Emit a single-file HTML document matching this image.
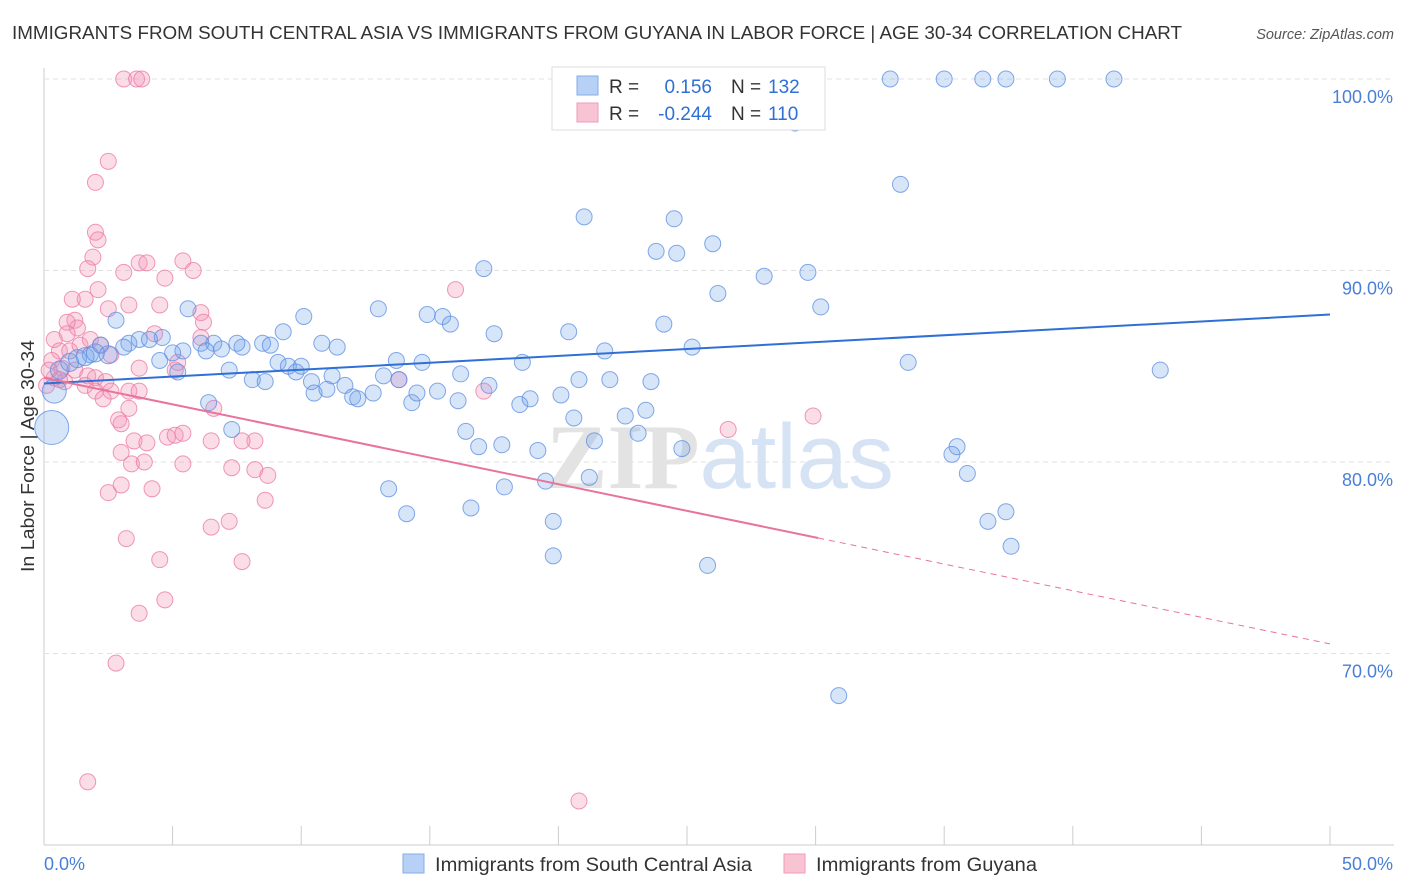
<!DOCTYPE html>
<html><head><meta charset="utf-8"><style>
body{margin:0;background:#fff;width:1406px;height:892px;overflow:hidden;font-family:"Liberation Sans",sans-serif}
svg{position:absolute;left:0;top:0}
</style></head><body>
<svg id="chart" width="1406" height="892">
<text x="12" y="39" font-size="18" fill="#333" textLength="1170" lengthAdjust="spacingAndGlyphs">IMMIGRANTS FROM SOUTH CENTRAL ASIA VS IMMIGRANTS FROM GUYANA IN LABOR FORCE | AGE 30-34 CORRELATION CHART</text>
<text x="1394" y="39" font-size="14.5" fill="#555" font-style="italic" text-anchor="end">Source: ZipAtlas.com</text>
<text x="720" y="488" font-size="92" fill="#e3e3e3" text-anchor="middle" font-family="Liberation Serif" font-weight="bold">ZIP<tspan fill="#d6e3f5" font-family="Liberation Sans" font-weight="normal">atlas</tspan></text>
<text transform="translate(34,456) rotate(-90)" font-size="18" fill="#333" text-anchor="middle" textLength="232" lengthAdjust="spacingAndGlyphs">In Labor Force | Age 30-34</text>
<g id="grid"></g><g id="pts"></g><g id="lines"></g>
<g>
<rect x="552" y="67" width="273" height="63" fill="#fff" stroke="#ddd"/>
<rect x="577" y="76" width="21" height="19" fill="#b7d0f5" stroke="#86aee8"/>
<rect x="577" y="103" width="21" height="19" fill="#f8c4d4" stroke="#ee9bb8"/>
<text x="609" y="93" font-size="19" fill="#333">R = </text><text x="712" y="93" font-size="19" fill="#2f6fd6" text-anchor="end">0.156</text>
<text x="731" y="93" font-size="19" fill="#333">N = </text><text x="768" y="93" font-size="19" fill="#2f6fd6">132</text>
<text x="609" y="120" font-size="19" fill="#333">R = </text><text x="712" y="120" font-size="19" fill="#2f6fd6" text-anchor="end">-0.244</text>
<text x="731" y="120" font-size="19" fill="#333">N = </text><text x="768" y="120" font-size="19" fill="#2f6fd6">110</text>
</g>
<g>
<rect x="403" y="854" width="21" height="19" fill="#b7d0f5" stroke="#86aee8"/>
<text x="435" y="871" font-size="19" fill="#333" textLength="317" lengthAdjust="spacingAndGlyphs">Immigrants from South Central Asia</text>
<rect x="784" y="854" width="21" height="19" fill="#f8c4d4" stroke="#ee9bb8"/>
<text x="816" y="871" font-size="19" fill="#333" textLength="221" lengthAdjust="spacingAndGlyphs">Immigrants from Guyana</text>
</g>
</svg>
<script>
const xTicks=[0,5,10,15,20,25,30,35,40,45,50];
const yTicks=[70,80,90,100];
const yTickLabels=["70.0%","80.0%","90.0%","100.0%"];
const blueX=[32.9,35.0,36.5,37.4,39.4,41.6,29.2,33.3,21.0,24.5,26.0,23.8,24.6,28.0,29.7,17.1,26.2,30.2,5.6,13.0,10.1,14.9,15.5,15.8,24.1,2.8,20.4,17.5,9.3,25.2,21.8,33.6,43.4,3.3,3.7,4.6,4.1,3.1,2.2,1.8,4.5,5.4,5.0,6.1,6.6,6.9,6.3,7.7,7.5,8.5,8.8,9.1,9.5,10.0,9.8,10.8,11.4,13.7,14.7,18.6,7.2,8.1,8.6,10.4,11.2,10.5,11.0,11.7,12.0,12.2,12.8,13.2,13.8,14.3,14.5,15.3,16.1,16.2,17.3,18.5,18.9,20.1,20.8,22.0,23.6,20.6,22.6,23.4,23.1,21.4,16.4,16.9,17.8,19.2,7.3,6.4,19.5,17.9,13.4,14.1,16.6,19.8,19.8,21.2,24.8,25.8,30.9,35.5,35.3,35.9,36.7,37.4,37.6,0.4,0.3,0.6,1.0,1.3,1.6,2.0,2.5,5.2];
const blueY=[100,100,100,100,100,100,97.7,94.5,92.8,92.7,91.4,91.0,90.9,89.7,89.9,90.1,88.8,88.1,88.0,88.0,87.6,87.7,87.6,87.2,87.2,87.4,86.8,86.7,86.8,86.0,85.8,85.2,84.8,86.2,86.4,86.5,86.4,86.0,86.1,85.6,85.3,85.8,85.7,86.2,86.2,85.9,85.8,86.0,86.2,86.2,86.1,85.2,85.0,85.0,84.7,86.2,86.0,85.3,85.2,85.2,84.8,84.3,84.2,84.2,84.5,83.6,83.8,84.0,83.4,83.3,83.6,84.5,84.3,83.1,83.6,83.7,83.2,84.6,84.0,83.0,83.3,83.5,84.3,84.3,84.2,82.3,82.4,82.7,81.5,81.1,81.6,80.8,80.9,80.6,81.7,83.1,79.0,78.7,78.6,77.3,77.6,76.9,75.1,79.2,80.7,74.6,67.8,80.8,80.4,79.4,76.9,77.4,75.6,83.7,81.8,84.8,85.2,85.4,85.5,85.7,85.6,84.7];
const blueR=[8,8,8,8,8,8,8,8,8,8,8,8,8,8,8,8,8,8,8,8,8,8,8,8,8,8,8,8,8,8,8,8,8,8,8,8,8,8,8,8,8,8,8,8,8,8,8,8,8,8,8,8,8,8,8,8,8,8,8,8,8,8,8,8,8,8,8,8,8,8,8,8,8,8,8,8,8,8,8,8,8,8,8,8,8,8,8,8,8,8,8,8,8,8,8,8,8,8,8,8,8,8,8,8,8,8,8,8,8,8,8,8,8,12,17,9,9,9,9,9,9,8];
const pinkX=[3.1,3.6,3.8,2.5,2.0,2.0,2.1,1.9,1.7,3.1,3.7,4.0,5.4,5.8,4.7,2.1,1.6,3.3,4.5,2.5,6.1,6.2,16.0,1.2,1.3,0.9,0.9,0.4,0.6,1.0,1.4,1.8,2.2,2.6,0.3,0.7,1.2,1.7,2.0,2.4,0.4,0.8,1.6,2.0,2.6,3.3,3.7,2.3,3.7,5.1,5.2,4.3,6.1,13.8,17.1,3.3,6.6,2.9,3.0,3.5,4.0,4.8,5.1,5.4,6.5,8.2,7.7,3.0,3.4,3.9,5.4,7.3,8.2,8.7,2.5,3.0,4.2,8.6,6.5,7.2,3.2,4.5,7.7,4.7,3.7,2.8,1.7,20.8,26.6,29.9,0.6,0.2,0.1,1.1];
const pinkY=[100,100,100,95.7,94.6,92.0,91.6,90.7,90.1,89.9,90.4,90.4,90.5,90.0,89.6,89.0,88.5,88.2,88.2,88.0,87.8,87.3,89.0,87.4,87.0,87.3,86.7,86.4,85.8,85.8,86.1,86.4,86.1,85.6,85.3,84.9,84.8,84.5,84.4,84.2,84.4,84.2,84.0,83.7,83.7,83.7,83.7,83.3,84.9,84.8,85.2,86.7,86.5,84.3,83.7,82.8,82.8,82.2,82.0,81.1,81.0,81.3,81.4,81.5,81.1,81.1,81.1,80.5,79.9,80.0,79.9,79.7,79.6,79.3,78.4,78.8,78.6,78.0,76.6,76.9,76.0,74.9,74.8,72.8,72.1,69.5,63.3,62.3,81.7,82.4,84.3,84.8,84.0,88.5];
const blueTrend=[84.1,87.7];
const pinkTrend=[84.4,70.5];
const pinkSolidEnd=30.1;
const NS="http://www.w3.org/2000/svg";
const X0=44,X1=1330,YT=79,YB=845;
function sx(v){return X0+(v/50)*(X1-X0);}
function sy(v){return YB-(v-60)/40*(YB-YT);}
function mk(tag,attrs,parent){const e=document.createElementNS(NS,tag);for(const k in attrs)e.setAttribute(k,attrs[k]);parent.appendChild(e);return e;}
const grid=document.getElementById('grid');
let ax=mk('line',{x1:X0,y1:68,x2:X0,y2:YB,stroke:'#ccc'},grid);


let bx=mk('line',{x1:X0,y1:YB,x2:1394,y2:YB,stroke:'#ccc'},grid);


yTicks.forEach((t,i)=>{
  const g=mk('line',{x1:X0,y1:sy(t),x2:1394,y2:sy(t),stroke:'#e0e0e0','stroke-dasharray':'5,4'},grid);
  
  
  const tx=mk('text',{x:1393,y:sy(t)+24,'font-size':18,fill:'#4a7fd6','text-anchor':'end'},grid);
  tx.textContent=yTickLabels[i];
  
  
});
xTicks.forEach(t=>{
  const l=mk('line',{x1:sx(t),y1:826,x2:sx(t),y2:YB,stroke:'#ccc'},grid);
  
  
});
let xl0=mk('text',{x:44,y:870,'font-size':18,fill:'#4a7fd6'},grid);xl0.textContent='0.0%';


let xl1=mk('text',{x:1393,y:870,'font-size':18,fill:'#4a7fd6','text-anchor':'end'},grid);xl1.textContent='50.0%';


const pts=document.getElementById('pts');
pinkX.forEach((x,i)=>{
  const c=mk('circle',{cx:sx(x),cy:sy(pinkY[i]),r:8,fill:'rgba(244,150,185,0.32)',stroke:'rgba(236,125,165,0.8)','stroke-width':1},pts);
  
  
});
blueX.forEach((x,i)=>{
  const c=mk('circle',{cx:sx(x),cy:sy(blueY[i]),r:blueR[i],fill:'rgba(110,160,235,0.28)',stroke:'rgba(90,140,225,0.75)','stroke-width':1},pts);
  
  
});
const lines=document.getElementById('lines');
let bl=mk('line',{x1:sx(0),y1:sy(blueTrend[0]),x2:sx(50),y2:sy(blueTrend[1]),stroke:'#2f6fd6','stroke-width':2},lines);


const pAt=x=>pinkTrend[0]+(pinkTrend[1]-pinkTrend[0])*x/50;
let pl=mk('line',{x1:sx(0),y1:sy(pAt(0)),x2:sx(pinkSolidEnd),y2:sy(pAt(pinkSolidEnd)),stroke:'#e8739b','stroke-width':2},lines);


let pd=mk('line',{x1:sx(pinkSolidEnd),y1:sy(pAt(pinkSolidEnd)),x2:sx(50),y2:sy(pAt(50)),stroke:'#e8739b','stroke-width':1,'stroke-dasharray':'6,5'},lines);


</script>
</body></html>
